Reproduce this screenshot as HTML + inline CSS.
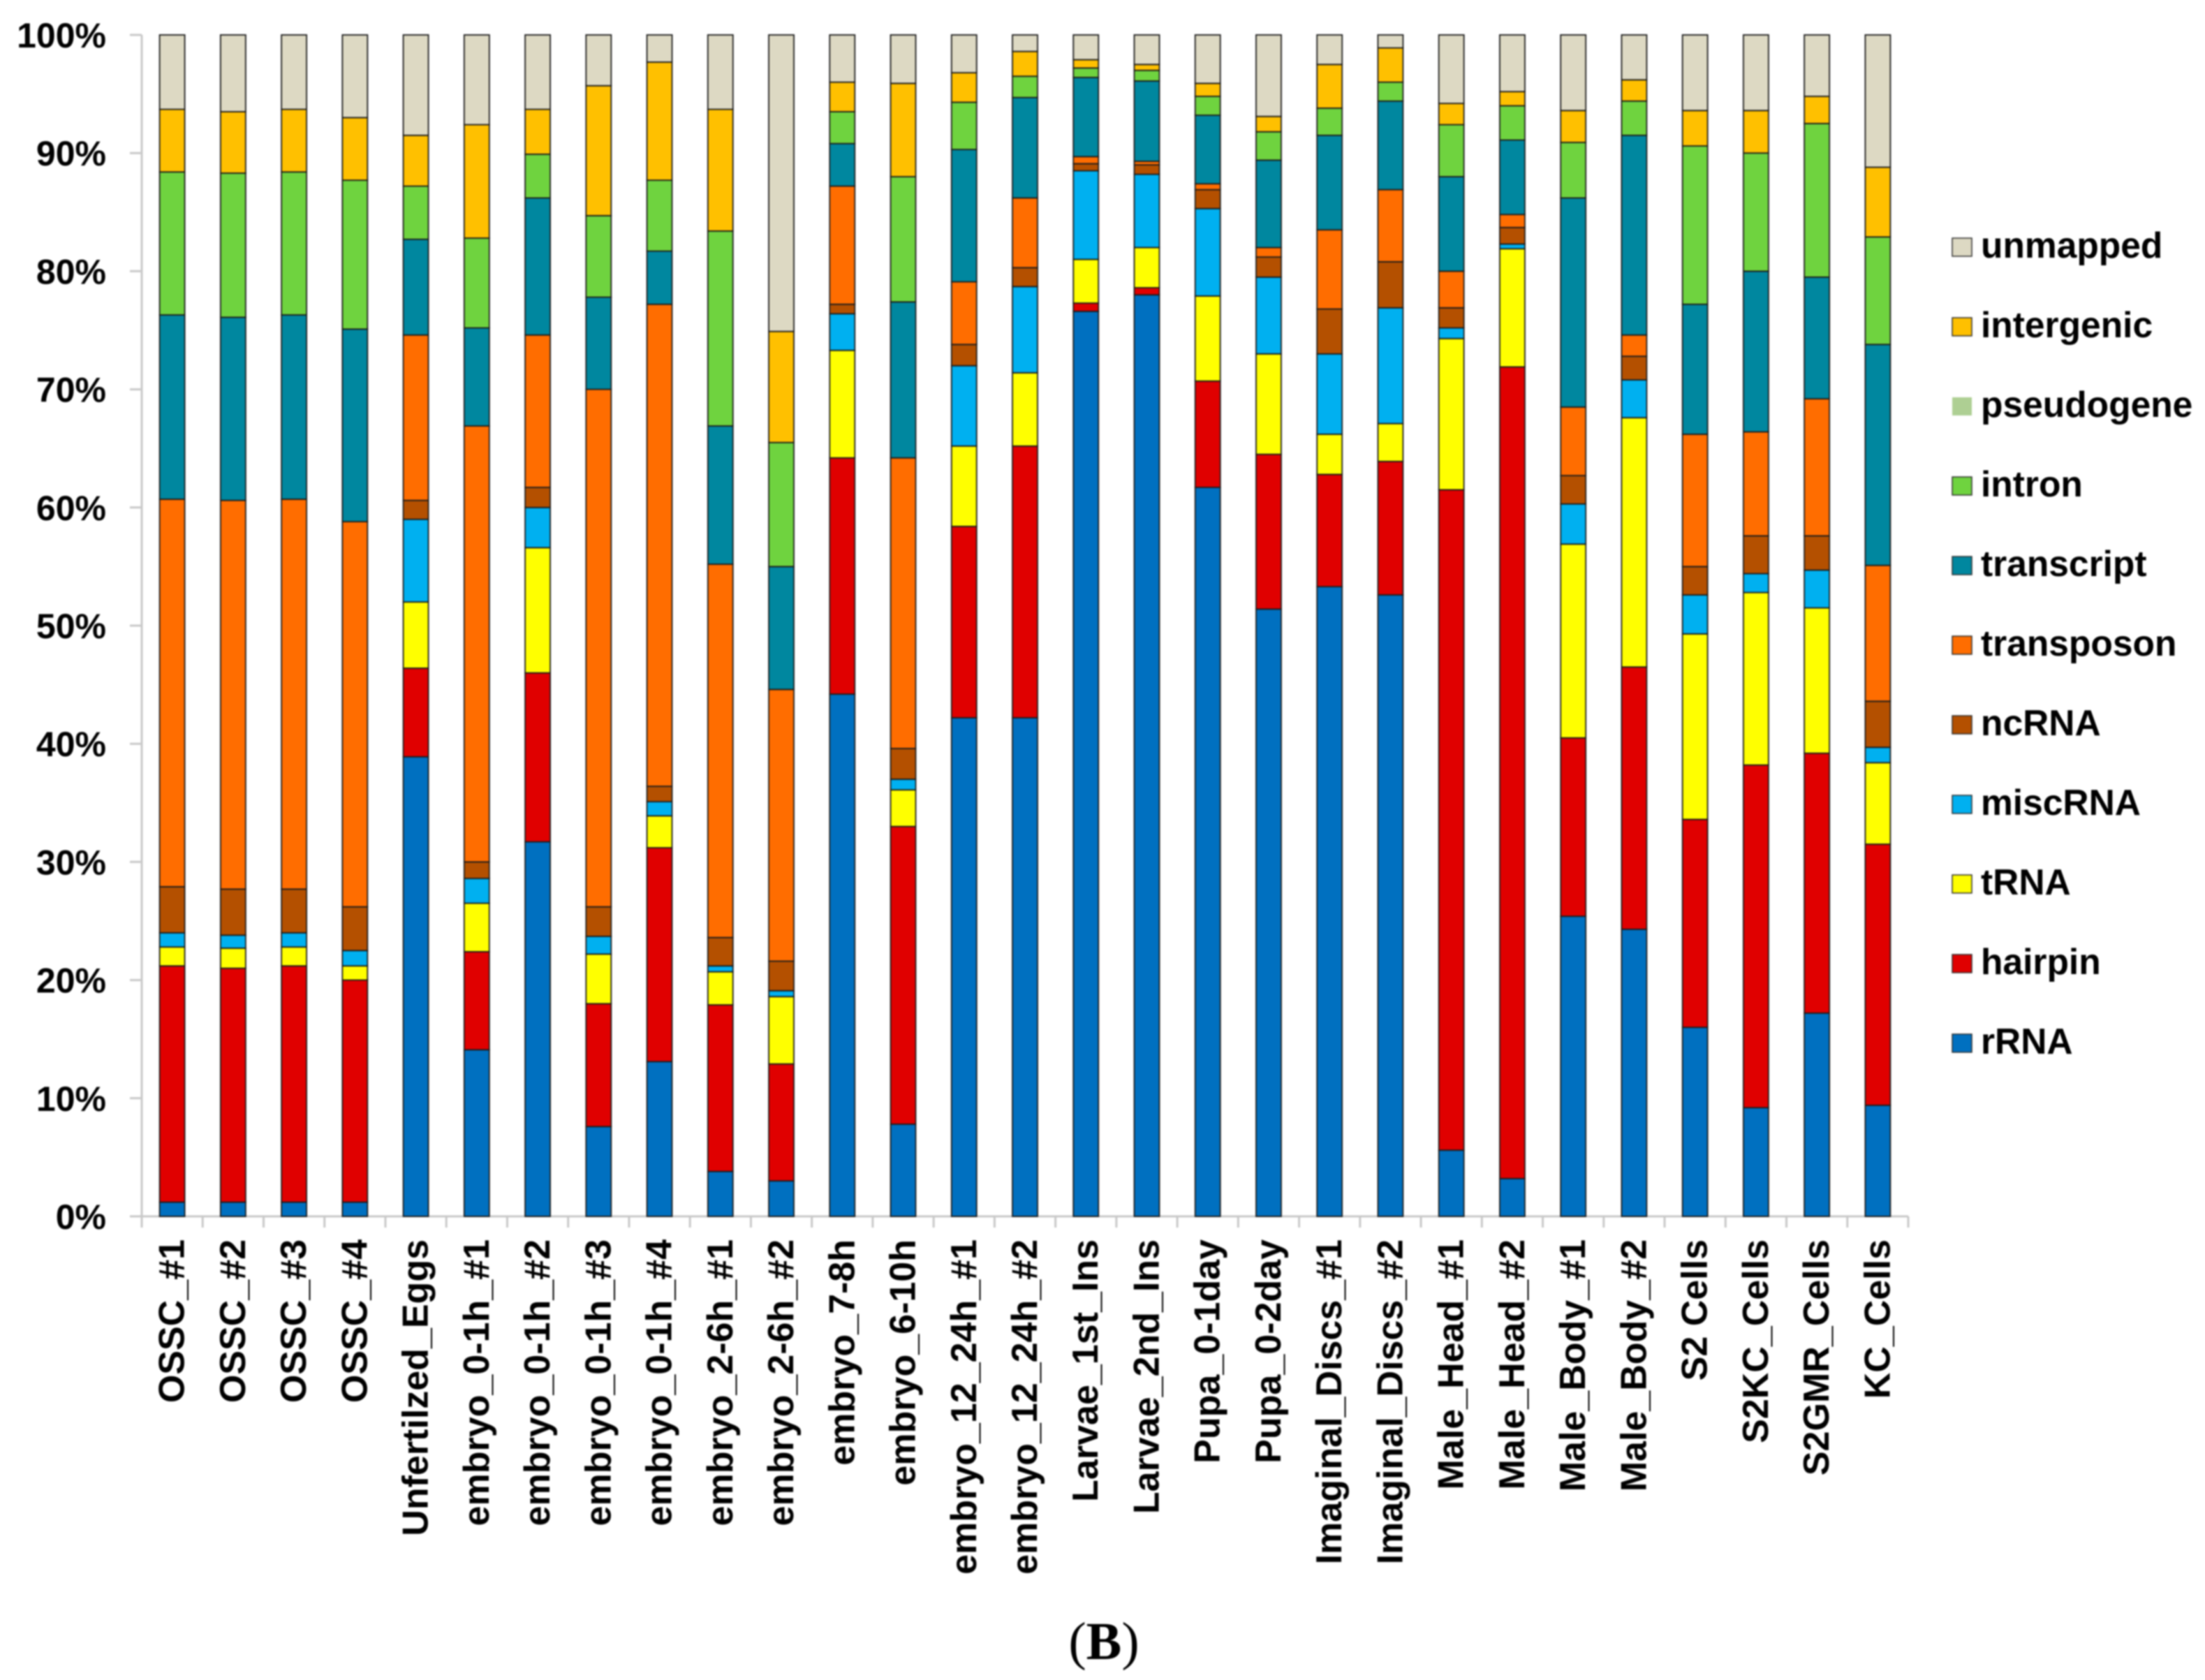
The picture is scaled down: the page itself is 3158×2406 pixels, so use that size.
<!DOCTYPE html>
<html lang="en">
<head>
<meta charset="utf-8">
<title>Small RNA annotation composition</title>
<style>
html,body{margin:0;padding:0;background:#fff;}
body{width:3158px;height:2406px;overflow:hidden;}
svg{display:block;filter:blur(1px);}
text{font-family:"Liberation Sans",Arial,sans-serif;fill:#000;}
</style>
</head>
<body>
<svg id="chart" xmlns="http://www.w3.org/2000/svg" width="3158" height="2406" viewBox="0 0 3158 2406">
<rect x="0" y="0" width="3158" height="2406" fill="#ffffff"/>
<g id="axes"></g>
<g id="bars"></g>
<g id="legend"></g>
<text x="1581" y="2376" text-anchor="middle" font-size="76" style="font-family:'Liberation Serif',serif">(<tspan font-weight="bold">B</tspan>)</text>
</svg>
<script>
const categories = ["OSSC_#1","OSSC_#2","OSSC_#3","OSSC_#4","Unfertilzed_Eggs","embryo_0-1h_#1","embryo_0-1h_#2","embryo_0-1h_#3","embryo_0-1h_#4","embryo_2-6h_#1","embryo_2-6h_#2","embryo_7-8h","embryo_6-10h","embryo_12_24h_#1","embryo_12_24h_#2","Larvae_1st_Ins","Larvae_2nd_Ins","Pupa_0-1day","Pupa_0-2day","Imaginal_Discs_#1","Imaginal_Discs_#2","Male_Head_#1","Male_Head_#2","Male_Body_#1","Male_Body_#2","S2 Cells","S2KC_Cells","S2GMR_Cells","KC_Cells"];
const yTicks = [0,10,20,30,40,50,60,70,80,90,100];
const seriesNames = ["rRNA","hairpin","tRNA","miscRNA","ncRNA","transposon","transcript","intron","pseudogene","intergenic","unmapped"];
const seriesColors = ["#0070C0","#E00000","#FFFF00","#00B0F0","#B45000","#FF6D00","#00879F","#6FD33F","#AECF93","#FFC000","#DDD9C3"];
const rRNA = [1.2,1.2,1.2,1.2,38.9,14.1,31.7,7.6,13.1,3.8,3.0,44.2,7.8,42.2,42.2,76.6,78.0,61.7,51.4,53.3,52.6,5.6,3.2,25.4,24.3,16.0,9.2,17.2,9.4];
const hairpin = [20.0,19.8,20.0,18.8,7.5,8.3,14.3,10.4,18.1,14.1,9.9,20.0,25.2,16.2,23.0,0.7,0.6,9.0,13.1,9.5,11.3,55.9,68.7,15.1,22.2,17.6,29.0,22.0,22.1];
const tRNA = [1.6,1.7,1.6,1.2,5.6,4.1,10.6,4.2,2.7,2.8,5.7,9.1,3.1,6.8,6.2,3.7,3.4,7.2,8.5,3.4,3.2,12.8,10.0,16.4,21.1,15.7,14.6,12.3,6.9];
const miscRNA = [1.2,1.1,1.2,1.3,7.0,2.1,3.4,1.5,1.2,0.5,0.5,3.1,0.9,6.8,7.3,7.5,6.2,7.4,6.5,6.8,9.8,0.9,0.4,3.4,3.2,3.3,1.6,3.2,1.3];
const ncRNA = [3.9,3.9,3.7,3.7,1.6,1.4,1.7,2.5,1.3,2.4,2.5,0.8,2.6,1.8,1.6,0.6,0.8,1.6,1.7,3.8,3.9,1.7,1.4,2.4,2.0,2.4,3.2,2.9,3.9];
const transposon = [32.8,32.9,33.0,32.6,14.0,36.9,12.9,43.8,40.8,31.6,23.0,10.0,24.6,5.3,5.9,0.6,0.3,0.5,0.8,6.7,6.1,3.1,1.1,5.8,1.8,11.2,8.8,11.6,11.5];
const transcript = [15.6,15.5,15.6,16.3,8.1,8.3,11.6,7.8,4.5,11.7,10.4,3.6,13.2,11.2,8.5,6.7,6.8,5.8,7.4,8.0,7.5,8.0,6.3,17.7,16.9,11.0,13.6,10.3,18.7];
const intron = [12.1,12.2,12.1,12.6,4.5,7.6,3.7,6.9,6.0,16.5,10.5,2.7,10.6,4.0,1.8,0.8,0.9,1.6,2.4,2.3,1.6,4.4,2.9,4.7,2.9,13.4,10.0,13.0,9.1];
const pseudogene = [0,0,0,0,0,0,0,0,0,0,0,0,0,0,0,0,0,0,0,0,0,0,0,0,0,0,0,0,0];
const intergenic = [5.3,5.2,5.3,5.3,4.3,9.6,3.8,11.0,10.0,10.3,9.4,2.5,7.9,2.5,2.1,0.7,0.5,1.1,1.3,3.7,2.9,1.8,1.2,2.7,1.8,3.0,3.6,2.3,5.9];
const unmapped = [6.3,6.5,6.3,7.0,8.5,7.6,6.3,4.3,2.3,6.3,25.1,4.0,4.1,3.2,1.4,2.1,2.5,4.1,6.9,2.5,1.1,5.8,4.8,6.4,3.8,6.4,6.4,5.2,11.2];
const seriesValues = [rRNA,hairpin,tRNA,miscRNA,ncRNA,transposon,transcript,intron,pseudogene,intergenic,unmapped];

const NS = "http://www.w3.org/2000/svg";
const plot = {left:203, right:2733, top:50, bottom:1742};
const barWidth = 36;
function xBand(i){ return plot.left + (plot.right - plot.left) * (i + 0.5) / categories.length; }
function xEdge(i){ return plot.left + (plot.right - plot.left) * i / categories.length; }
function yScale(v){ return plot.bottom - (plot.bottom - plot.top) * v / 100; }
function make(tag, attrs, parent){
  const el = document.createElementNS(NS, tag);
  for (const k in attrs) el.setAttribute(k, attrs[k]);
  parent.appendChild(el);
  return el;
}
const axes = document.getElementById("axes");
const barsG = document.getElementById("bars");
const legendG = document.getElementById("legend");

const yAxisLine = make("line",{x1:plot.left,x2:plot.left,y1:plot.top,y2:plot.bottom,stroke:"#c8c8c8","stroke-width":3},axes);


const xAxisLine = make("line",{x1:plot.left - 17,x2:plot.right,y1:plot.bottom,y2:plot.bottom,stroke:"#c8c8c8","stroke-width":3},axes);



yTicks.forEach(function(t){
  const y = yScale(t);
  const tick = make("line",{x1:plot.left - 17,x2:plot.left,y1:y,y2:y,stroke:"#c8c8c8","stroke-width":3},axes);
  
  
  const label = make("text",{x:152,y:y + 18,"text-anchor":"end","font-size":50,"font-weight":"bold"},axes);
  
  
  label.textContent = t + "%";
});

for (let i = 0; i <= categories.length; i++){
  const x = xEdge(i);
  const tick = make("line",{x1:x,x2:x,y1:plot.bottom,y2:plot.bottom + 16,stroke:"#c8c8c8","stroke-width":3},axes);
  
  
}

categories.forEach(function(name, i){
  const cx = xBand(i);
  const group = make("g",{},barsG);
  
  
  let cumulative = 0;
  seriesValues.forEach(function(values, s){
    const top = cumulative + values[i];
    const yTop = yScale(top);
    const yBottom = yScale(cumulative);
    const seg = make("rect",{x:cx - barWidth / 2,y:yTop,width:barWidth,height:Math.max(0,yBottom - yTop),fill:seriesColors[s],stroke:"#1c1c1c","stroke-width":1.8},group);
    
    
    cumulative = top;
  });
  const label = make("text",{transform:"translate(" + (cx + 17) + " 1775) rotate(-90)","text-anchor":"end","font-size":52,"font-weight":"bold"},axes);
  
  
  label.textContent = name;
});

const legendTop = 354;
const legendStep = 114;
for (let s = seriesNames.length - 1; s >= 0; s--){
  const row = seriesNames.length - 1 - s;
  const y = legendTop + row * legendStep;
  const entry = make("g",{},legendG);
  
  
  const swatch = make("rect",{x:2796,y:y - 13,width:28,height:26,fill:seriesColors[s],stroke:seriesNames[s] === "pseudogene" ? "none" : "#333","stroke-width":1.5},entry);
  
  
  const text = make("text",{x:2837,y:y + 15,"font-size":51.5,"font-weight":"bold"},entry);
  
  
  text.textContent = seriesNames[s];
}
</script>
</body>
</html>
